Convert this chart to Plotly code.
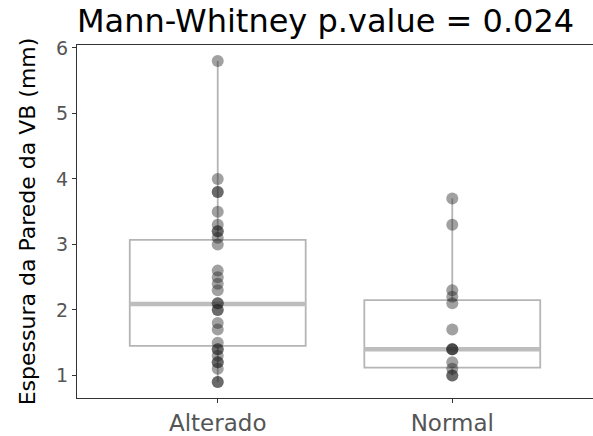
import plotly.graph_objects as go

categories = ["Alterado", "Normal"]
alterado = [5.8, 4.0, 3.8, 3.8, 3.5, 3.3, 3.2, 3.2, 3.1, 3.0, 2.6, 2.5, 2.4, 2.3,
            2.1, 2.1, 2.0, 2.0, 1.8, 1.7, 1.5, 1.4, 1.4, 1.3, 1.2, 1.2, 1.1, 0.9, 0.9]
normal = [3.7, 3.3, 2.3, 2.2, 2.1, 1.7, 1.4, 1.4, 1.4, 1.2, 1.1, 1.0, 1.0]
q1 = [1.45, 1.12]
median = [2.09, 1.40]
q3 = [3.07, 2.15]
lower = [0.9, 1.0]
upper = [5.8, 3.7]
y_ticks = [1, 2, 3, 4, 5, 6]
title_text = "Mann-Whitney p.value = 0.024"
y_title = "Espessura da Parede da VB (mm)"

box_w = 0.75
pos = list(range(len(categories)))

fig = go.Figure()
fig.add_trace(go.Box(
    x=pos, q1=q1, median=median, q3=q3, lowerfence=lower, upperfence=upper,
    width=box_w, whiskerwidth=0, fillcolor="rgba(255,255,255,0)",
    line=dict(color="#b5b5b5", width=1.8), boxpoints=False, showlegend=False,
    hoverinfo="skip"))

mx, my = [], []
for i, m in zip(pos, median):
    mx += [i - box_w / 2, i + box_w / 2, None]
    my += [m, m, None]
fig.add_trace(go.Scatter(x=mx, y=my, mode="lines",
                         line=dict(color="#bdbdbd", width=4.5), showlegend=False,
                         hoverinfo="skip"))

px = [pos[0]] * len(alterado) + [pos[1]] * len(normal)
py = alterado + normal
fig.add_trace(go.Scatter(x=px, y=py, mode="markers",
                         marker=dict(size=12, color="rgba(30,30,30,0.42)", line=dict(width=0)),
                         showlegend=False))

fig.update_layout(
    width=593, height=436,
    margin=dict(l=77, r=0, t=45, b=34),
    paper_bgcolor="white", plot_bgcolor="white",
    title=dict(text=title_text, x=0, xref="paper", xanchor="left",
               y=1 - 21 / 436, yref="container", yanchor="middle",
               font=dict(family="DejaVu Sans", size=32, color="black")),
    xaxis=dict(range=[-0.6, 1.6], tickvals=pos, ticktext=categories,
               showline=True, linecolor="#333333", linewidth=1.2, mirror=True,
               ticks="outside", ticklen=4, tickcolor="#333333",
               showgrid=False, zeroline=False,
               tickfont=dict(family="DejaVu Sans", size=23, color="#555555")),
    yaxis=dict(range=[0.655, 6.045], tickvals=y_ticks,
               showline=True, linecolor="#333333", linewidth=1.2,
               ticks="outside", ticklen=4, tickcolor="#333333",
               showgrid=False, zeroline=False,
               tickfont=dict(family="DejaVu Sans", size=19, color="#555555"),
               title=dict(text=y_title, standoff=14,
                          font=dict(family="DejaVu Sans", size=22, color="black"))),
)

fig.write_html("out.html")
